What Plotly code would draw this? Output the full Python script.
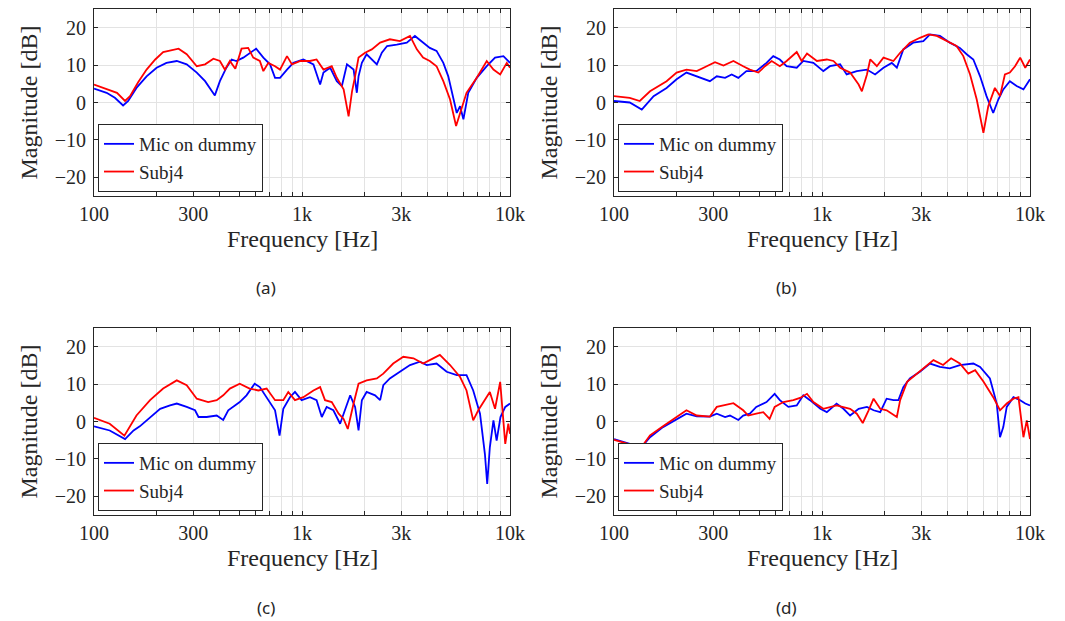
import plotly.graph_objects as go

# ---------------- data ----------------
freq_a_dummy = [100,115,126,138,146,160,179,200,223,250,279,312,342,381,403,433,459,483,522,560,602,652,702,742,784,847,909,1015,1135,1222,1268,1365,1470,1555,1645,1770,1835,1870,1940,2045,2165,2290,2420,2565,2855,3190,3490,3820,4115,4435,4780,5050,5340,5545,5755,5970,6300,6920,7730,8475,9300,10000]
mag_a_dummy = [3.7,2.6,1.25,-0.8,0.4,3.9,7,9.3,10.6,11.1,10.2,8,5.7,1.9,5.7,9.3,11.5,11.1,12,13.3,14.4,12,10.2,6.6,6.6,8.8,10.6,11.5,10.2,4.8,8,9.3,5.7,4.4,10.2,8.8,2.6,7,10.6,12.9,11.5,10.2,13.3,15.1,15.5,16,17.8,16,14.6,13.8,10.6,7,0.8,-2.8,-1,-4.5,2.6,6.6,9.7,12,12.4,10.6]
freq_a_subj = [100,115,129,141,149,163,179,197,215,255,279,312,342,375,403,426,450,478,512,551,583,627,652,689,742,784,847,895,982,1092,1175,1268,1390,1470,1585,1675,1740,1800,1870,2010,2165,2375,2645,2955,3305,3565,3820,4115,4435,4780,5150,5505,5755,6180,6920,7730,8325,8970,9650,10000]
mag_a_subj = [4.8,3.7,2.6,0.4,1.7,5.4,8.8,11.5,13.5,14.4,12.9,9.7,10.2,11.7,11.1,8.8,11.1,9,14.4,14.6,12,11.1,8.4,10.6,9.7,8.8,12.4,10.2,11.1,11.1,11.5,8.8,9.7,6.6,3.5,-3.7,3,7,12,13.3,14.2,16,16.9,16.4,17.8,14.2,12,11.1,9.7,5.7,0.8,-6.3,-2.8,2.6,6.6,11.1,8.8,7.5,10.6,9.3]

freq_b_dummy = [100,119,136,155,179,200,223,250,289,312,342,368,396,433,483,541,583,627,676,756,813,909,1015,1092,1222,1314,1470,1645,1800,1975,2165,2290,2460,2745,3070,3305,3690,4115,4600,4960,5340,5755,6180,6655,7040,7440,8000,8625,9300,10000]
mag_b_dummy = [0.4,0,-1.9,1.7,3.9,6.2,8,7,5.7,7,6.6,7.5,6.6,8.4,8.4,10.6,12.4,11.5,9.7,9.3,11.1,10.6,8.4,9.7,10.2,7.5,8.4,8.8,7.5,9.3,10.6,9.3,14.2,16,16.4,18.2,17.8,16,14.6,12.9,11.5,7,1.7,-2.8,0.8,3.5,5.7,4.4,3.5,6.2]
freq_b_subj = [100,119,133,149,179,200,223,250,279,306,336,375,418,450,494,532,573,627,676,756,798,847,945,1055,1135,1222,1365,1500,1555,1645,1705,1835,1975,2205,2375,2645,2955,3245,3565,3980,4435,4780,5150,5545,5970,6300,6780,7175,7575,8000,8475,8970,9490,10000]
mag_b_subj = [1.7,1.25,0.4,3,5.7,8,8.8,8.4,9.7,10.8,9.9,11.1,9.7,8.8,8,9.7,11.1,9.7,11.1,13.5,11.1,13.1,11.1,11.5,11.1,9.3,8,4.8,3,7.5,11.5,9.7,12,11.1,13.3,16,17.3,18.2,17.8,16.4,15.1,12.4,7.5,0.8,-8.1,-1,3.9,1.7,7.5,8,9.7,12,9.3,11.5]

freq_c_dummy = [100,119,141,155,166,186,208,232,250,279,306,318,348,389,418,442,467,502,541,592,627,676,742,780,813,875,925,996,1092,1175,1245,1314,1415,1525,1610,1705,1800,1870,1940,2045,2245,2375,2460,2645,2955,3305,3690,3980,4435,4960,5545,6180,6655,7175,7575,7770,8000,8325,8625,9000,9490,10000]
mag_c_dummy = [-1.3,-2.4,-4.7,-2.4,-1.3,1.2,3.4,4.3,4.8,3.9,3,1.2,1.2,1.6,0.4,3,3.9,5.2,7,10.1,9.2,6.5,3,-3.8,3.4,6.5,7.9,5.7,6.5,5.7,1.2,3.9,3,-0.6,3.4,7,3.9,-2.4,5.7,7.9,7,5.7,9.7,11.5,13.3,15.1,16,15.1,15.5,13.3,12.4,12.4,8.3,2.1,-8.7,-16.7,-6.9,0.3,-5.1,1.2,3.9,4.8]
freq_c_subj = [100,119,140,160,186,215,250,279,312,354,389,418,450,502,560,617,676,742,813,859,925,1015,1135,1222,1290,1390,1500,1585,1660,1705,1770,1870,2045,2290,2460,2745,3070,3435,3820,4115,4600,5150,5755,6180,6655,7040,7440,8000,8475,8970,9490,9815,10000]
mag_c_subj = [1,-0.6,-3.8,1.6,5.7,8.8,11,9.7,6.1,5.2,5.7,7,8.8,10.1,8.8,8.3,8.8,5.7,5.7,7.9,5.7,6.5,8.3,9.2,5.7,5.2,2.1,0.7,-2,1.2,4.8,10.1,11,11.5,12.8,15.5,17.3,16.9,15.5,16.4,17.8,15.1,11.9,8.3,0.3,3,5.2,7.9,3.4,10.6,-6,-0.6,-3.3]

freq_d_dummy = [100,119,133,149,172,200,223,250,289,312,342,361,396,418,450,483,541,592,627,689,756,813,875,982,1055,1175,1268,1365,1500,1645,1770,1905,2045,2205,2330,2460,2645,2955,3305,3690,4115,4600,5340,5755,6415,6920,7175,7440,7730,8325,8970,9490,10000]
mag_d_dummy = [-4.7,-6,-7.4,-4.2,-1.5,0.7,2.1,1.4,1.3,2.1,1.2,1.6,0.4,1.6,2.1,3.9,5.2,7.4,5.7,3.9,4.3,7,5.7,3.4,2.5,4.8,3.4,1.6,3.4,3.9,3,2.5,6.1,5.7,5.7,9.2,11.5,13.3,15.5,14.6,14.2,15.1,15.5,14.6,11.5,4.8,-4.2,-1.5,3.9,6.5,5.7,4.8,4.3]
freq_d_subj = [100,119,133,149,172,200,223,250,289,312,342,375,418,442,483,522,560,592,652,728,784,847,909,1015,1175,1365,1470,1570,1675,1770,1905,2045,2290,2375,2565,2745,3070,3435,3820,4175,4600,5050,5450,5970,6655,7175,7730,8325,8800,9300,9650,10000]
mag_d_subj = [-4.9,-6.1,-7.5,-3.7,-1.3,1.2,3,1.6,1.3,3.9,4.3,4.9,3,1.6,2.1,2.5,0.7,3.9,5.2,5.7,6.3,7.4,5.2,3.4,4.3,3.4,2.1,-0.4,3,6.1,3.4,3,1.2,5.7,10.6,11.9,14.2,16.4,15.1,16.9,15.5,12.8,13.7,10.7,6.5,3,4.8,6.1,6.5,-4.2,0.3,-4.7]

series_names = ["Mic on dummy", "Subj4"]
panel_labels = ["(a)", "(b)", "(c)", "(d)"]
x_tick_labels = {100: "100", 300: "300", 1000: "1k", 3000: "3k", 10000: "10k"}
y_tick_vals = [-20, -10, 0, 10, 20]

panels = [
    (freq_a_dummy, mag_a_dummy, freq_a_subj, mag_a_subj),
    (freq_b_dummy, mag_b_dummy, freq_b_subj, mag_b_subj),
    (freq_c_dummy, mag_c_dummy, freq_c_subj, mag_c_subj),
    (freq_d_dummy, mag_d_dummy, freq_d_subj, mag_d_subj),
]

# ---------------- layout ----------------
# the page body adds an 8 px margin (top/left), so the figure is shifted by it
OFF = 8
W, H = 1065 - OFF, 621 - OFF
SERIF = "Liberation Serif"
INK = "#262626"


def px(x):
    return (x - OFF) / W


def py(y):
    return 1 - (y - OFF) / H


x_px = [(94, 510), (614, 1030)]
y_px = [(9, 196), (328, 515)]
caption_x = [266, 786]
caption_y = [288, 607]

grid_vals = [m * 10 ** e for e in (2, 3) for m in range(1, 10)] + [10000]
grid_text = [x_tick_labels.get(v, "") for v in grid_vals]

colors = ["#0000ff", "#ff0000"]

fig = go.Figure()
layout = dict(width=W, height=H, margin=dict(l=0, r=0, t=0, b=0, autoexpand=False),
              template="none", paper_bgcolor="white", plot_bgcolor="white",
              annotations=[])

for i, (fd, md, fs, ms) in enumerate(panels):
    n = i + 1
    col, row = i % 2, i // 2
    xa = "x" if n == 1 else f"x{n}"
    ya = "y" if n == 1 else f"y{n}"
    lg = "legend" if n == 1 else f"legend{n}"
    for k, (f, m) in enumerate([(fd, md), (fs, ms)]):
        fig.add_trace(go.Scatter(x=f, y=m, mode="lines", name=series_names[k],
                                 line=dict(color=colors[k], width=1.8),
                                 xaxis=xa, yaxis=ya, legend=lg, showlegend=True))
    axis_common = dict(showline=True, linecolor=INK, linewidth=1, mirror="ticks",
                       ticks="inside", ticklen=4, tickcolor=INK, tickwidth=1,
                       showgrid=True, gridcolor="#e3e3e3", gridwidth=1, zeroline=False,
                       automargin=False,
                       tickfont=dict(family=SERIF, size=20, color=INK))
    x0p, x1p = x_px[col]
    y0p, y1p = y_px[row]
    layout["xaxis" if n == 1 else f"xaxis{n}"] = dict(
        axis_common, type="log", range=[2, 4], domain=[px(x0p), px(x1p)],
        anchor=ya, tickmode="array", tickvals=grid_vals, ticktext=grid_text)
    layout["yaxis" if n == 1 else f"yaxis{n}"] = dict(
        axis_common, range=[-25, 25], domain=[py(y1p), py(y0p)], anchor=xa,
        tickmode="array", tickvals=y_tick_vals, ticklabelstandoff=3)
    layout[lg] = dict(x=px(x0p + 4), y=py(y1p - 4), xanchor="left", yanchor="bottom",
                      bgcolor="white", bordercolor=INK, borderwidth=1,
                      font=dict(family=SERIF, size=19, color=INK),
                      tracegroupgap=0, itemwidth=30)
    xc = (x0p + x1p) / 2
    layout["annotations"] += [
        dict(text="Frequency [Hz]", x=px(xc), y=py(y1p + 43), xref="paper", yref="paper",
             showarrow=False, xanchor="center", yanchor="middle",
             font=dict(family=SERIF, size=24, color=INK)),
        dict(text="Magnitude [dB]", x=px(x0p - 66), y=py((y0p + y1p) / 2),
             xref="paper", yref="paper",
             showarrow=False, xanchor="center", yanchor="middle", textangle=-90,
             font=dict(family=SERIF, size=24, color=INK)),
        dict(text=panel_labels[i], x=px(caption_x[col]), y=py(caption_y[row]),
             xref="paper", yref="paper",
             showarrow=False, xanchor="center", yanchor="middle",
             font=dict(family="Noto Sans", size=17, color=INK)),
    ]

fig.update_layout(**layout)
fig.write_html("out.html")
